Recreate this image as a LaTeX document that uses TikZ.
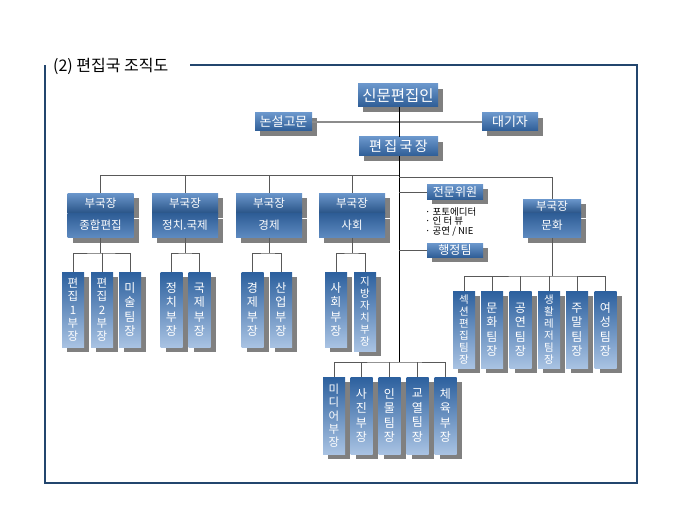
\documentclass[tikz,border=0pt]{standalone}
\usepackage{fontspec}
\newfontfamily\kr{Noto Sans CJK KR}
\usetikzlibrary{shadows}
\definecolor{frameblue}{HTML}{23466E}
\definecolor{htop}{HTML}{6A96CB}
\definecolor{hbot}{HTML}{2E5D96}
\definecolor{vtop}{HTML}{2C609E}
\definecolor{vbot}{HTML}{A9C3E3}
\definecolor{shadowgray}{HTML}{808080}
\tikzset{
  x=1pt, y=-1pt,
  shad/.style={drop shadow={shadow xshift=5pt, shadow yshift=-5pt, fill=shadowgray, opacity=1}},
  hbox/.style={shad, top color=htop, bottom color=hbot, draw=none, text=white, inner sep=0pt,
    font=\kr\fontsize{13}{15}\selectfont},
  headbox/.style={shad, top color=htop, bottom color=hbot!90!black, draw=none, text=white, inner sep=0pt,
    minimum width=66pt, minimum height=20pt, anchor=north, font=\kr\fontsize{11.5}{13}\selectfont},
  bodybox/.style={shad, top color=hbot, bottom color=htop!80!hbot, draw=none, text=white, inner sep=0pt,
    minimum width=66pt, minimum height=24pt, anchor=north, font=\kr\fontsize{11.5}{13}\selectfont},
  vbox/.style={shad, top color=vtop, bottom color=vbot, draw=none, text=white, inner sep=0pt,
    minimum width=22pt, anchor=north, align=center},
  vfour/.style={vbox, font=\kr\fontsize{12}{14.5}\selectfont},
  vfive/.style={vbox, font=\kr\fontsize{11.5}{13.4}\selectfont},
  vsix/.style={vbox, font=\kr\fontsize{10.5}{11.9}\selectfont},
  conn/.style={draw=black!65, line width=0.8pt},
  mainline/.style={draw=black, line width=0.9pt},
  sideline/.style={draw=black!45, line width=1.4pt},
  framel/.style={draw=frameblue, line width=1.8pt},
}
\begin{document}
\begin{tikzpicture}
\useasboundingbox (0,0) rectangle (680,510);
% frame and title
\node[anchor=west, inner sep=0pt, font=\kr\fontsize{16}{18}\selectfont] (title) at (53,66) {(2) 편집국 조직도};
\coordinate (ftl) at (45,65);
\coordinate (fts) at (190,65);
\coordinate (ftr) at (637,65);
\coordinate (fbr) at (637,483);
\coordinate (fbl) at (45,483);
\draw[framel] (fts) -- (ftr) -- (fbr) -- (fbl) -- (ftl);

% top nodes
\node[hbox, minimum width=80pt, minimum height=23pt, font=\kr\fontsize{15.5}{17}\selectfont] (pub) at (398,95.5) {신문편집인};
\node[hbox, minimum width=57pt, minimum height=18pt] (adv) at (283.5,122) {논설고문};
\node[hbox, minimum width=56pt, minimum height=18pt] (rep) at (510,122) {대기자};
\node[hbox, minimum width=79pt, minimum height=19pt, font=\kr\fontsize{14}{16}\selectfont] (chief) at (398.5,146.5) {편\,집\,국\,장};

% department heads
\node[headbox] (h1) at (100.5,193) {부국장};
\node[bodybox] (b1) at (h1.south) {종합편집};
\node[headbox] (h2) at (185,193) {부국장};
\node[bodybox] (b2) at (h2.south) {정치.국제};
\node[headbox] (h3) at (269,193) {부국장};
\node[bodybox] (b3) at (h3.south) {경제};
\node[headbox] (h4) at (352,193) {부국장};
\node[bodybox] (b4) at (h4.south) {사회};
\node[headbox, minimum width=58pt, minimum height=14pt] (h5) at (552,199) {부국장};
\node[bodybox, minimum width=58pt] (b5) at (h5.south) {문화};

% side nodes
\node[hbox, minimum width=56pt, minimum height=15pt, font=\kr\fontsize{12}{13}\selectfont] (exp) at (455,192) {전문위원};
\node[anchor=north west, inner sep=0pt, align=left, font=\kr\fontsize{9.5}{9.6}\selectfont] (list) at (425,207) {· 포토에디터\\· 인 터 뷰\\· 공연 / NIE};
\node[hbox, minimum width=56pt, minimum height=14pt, font=\kr\fontsize{12}{13}\selectfont] (admin) at (455,250.5) {행정팀};

% sub boxes
\node[vfive, minimum height=75pt] (p1) at (73,272) {편\\집\\1\\부\\장};
\node[vfive, minimum height=75pt] (p2) at (102,272) {편\\집\\2\\부\\장};
\node[vfour, minimum height=75pt] (p3) at (130,272) {미\\술\\팀\\장};
\node[vfour, minimum height=75pt] (q1) at (171.5,272) {정\\치\\부\\장};
\node[vfour, minimum height=75pt] (q2) at (199.5,272) {국\\제\\부\\장};
\node[vfour, minimum height=75pt] (r1) at (252.5,272) {경\\제\\부\\장};
\node[vfour, minimum height=75pt] (r2) at (281,272) {산\\업\\부\\장};
\node[vfour, minimum height=75pt] (s1) at (336,272) {사\\회\\부\\장};
\node[vsix, minimum height=79pt] (s2) at (365,272) {지\\방\\자\\치\\부\\장};

% culture teams
\node[vsix, minimum height=77pt] (c1) at (464,291) {섹\\션\\편\\집\\팀\\장};
\node[vfour, minimum height=77pt] (c2) at (492,291) {문\\화\\팀\\장};
\node[vfour, minimum height=77pt] (c3) at (520.5,291) {공\\연\\팀\\장};
\node[vsix, minimum height=77pt] (c4) at (549,291) {생\\활\\레\\저\\팀\\장};
\node[vfour, minimum height=77pt] (c5) at (577,291) {주\\말\\팀\\장};
\node[vfour, minimum height=77pt] (c6) at (605.5,291) {여\\성\\팀\\장};

% bottom teams
\node[vfive, minimum height=77pt] (d1) at (334,377) {미\\디\\어\\부\\장};
\node[vfour, minimum height=77pt] (d2) at (361.5,377) {사\\진\\부\\장};
\node[vfour, minimum height=77pt] (d3) at (389.5,377) {인\\물\\팀\\장};
\node[vfour, minimum height=77pt] (d4) at (417.5,377) {교\\열\\팀\\장};
\node[vfour, minimum height=77pt] (d5) at (445.5,377) {체\\육\\부\\장};

% bus coordinates
\coordinate (busC) at (399,175);
\coordinate (busR) at (399,177);
\coordinate (busB) at (399,362);
\coordinate (g1) at (100.5,253);
\coordinate (g2) at (185,253);
\coordinate (g3) at (269,253);
\coordinate (g4) at (352,253);
\coordinate (g5) at (552,276);

% connectors
\draw[sideline] (adv.east) -- (rep.west);
\draw[mainline] (pub.south -| busC) -- (chief.north -| busC);
\draw[mainline] (chief.south -| busC) -- (busB);
\draw[conn] (h1.north) |- (busC);
\draw[conn] (h2.north) -- (h2.north |- busC);
\draw[conn] (h3.north) -- (h3.north |- busC);
\draw[conn] (h4.north) -- (h4.north |- busC);
\draw[conn] (busR) -| (h5.north);
\draw[conn] (exp.west -| busC) -- (exp.west);
\draw[conn] (admin.west -| busC) -- (admin.west);

\draw[conn] (b1.south) -- (g1);
\draw[conn] (p1.north) |- (g1) -| (p3.north);
\draw[conn] (p2.north) -- (p2.north |- g1);
\draw[conn] (b2.south) -- (g2);
\draw[conn] (q1.north) |- (g2) -| (q2.north);
\draw[conn] (b3.south) -- (g3);
\draw[conn] (r1.north) |- (g3) -| (r2.north);
\draw[conn] (b4.south) -- (g4);
\draw[conn] (s1.north) |- (g4) -| (s2.north);

\draw[conn] (b5.south) -- (g5);
\draw[conn] (c1.north) |- (g5) -| (c6.north);
\draw[conn] (c2.north) -- (c2.north |- g5);
\draw[conn] (c3.north) -- (c3.north |- g5);
\draw[conn] (c4.north) -- (c4.north |- g5);
\draw[conn] (c5.north) -- (c5.north |- g5);

\draw[conn] (d1.north) |- (busB) -| (d5.north);
\draw[conn] (d2.north) -- (d2.north |- busB);
\draw[conn] (d3.north) -- (d3.north |- busB);
\draw[conn] (d4.north) -- (d4.north |- busB);
\end{tikzpicture}
\end{document}
